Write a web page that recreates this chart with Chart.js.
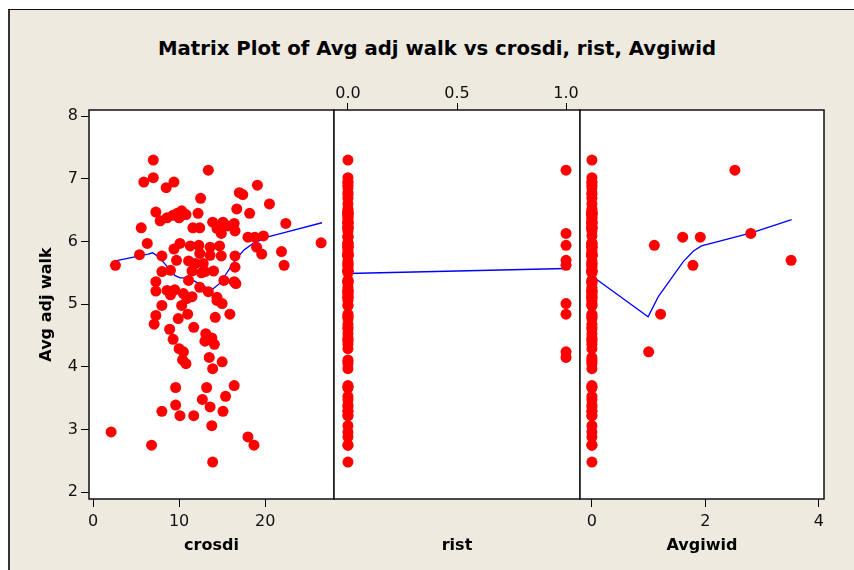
<!DOCTYPE html>
<html>
<head>
<meta charset="utf-8">
<script src="https://cdn.jsdelivr.net/npm/chart.js@4.4.1/dist/chart.umd.min.js"></script>
<style>
  body { margin: 0; background: #fff; }
  #wrap { position: relative; width: 854px; height: 570px; overflow: hidden; }
  #bg { position: absolute; left: 8px; top: 9px; right: 0; bottom: 0; background: #eeeae0;
        border-left: 2px solid #333; border-top: 1px solid #111; }
  canvas { position: absolute; left: 0; top: 0; }
  #title { position: absolute; left: 0; width: 874px; top: 37px; text-align: center;
           font: bold 19.7px "DejaVu Sans", sans-serif; line-height: 24px; color: #000; }
</style>
</head>
<body>
<div id="wrap">
  <div id="bg"></div>
  <div id="title">Matrix Plot of Avg adj walk vs crosdi, rist, Avgiwid</div>
  <canvas id="pCrosdi" width="854" height="570"></canvas>
  <canvas id="pRist" width="854" height="570"></canvas>
  <canvas id="pAvgiwid" width="854" height="570"></canvas>
</div>
<script>
// una fila por observacion
const crosdi = [13.4, 14.9, 12.3, 9.7, 22.2, 15.0, 15.9, 10.5, 13.5, 18.0, 18.8,
  7.0, 5.9, 7.0, 8.5, 9.4, 12.5, 17.0, 17.4, 19.1, 20.5, 16.7, 18.2, 7.3, 7.8, 8.6, 9.3,
  9.8, 10.3, 10.8, 10.0, 12.2, 5.6, 6.3, 5.4, 2.6, 11.6, 12.4, 13.9, 15.1, 16.4, 14.4,
  15.6, 16.5, 19.8, 22.4, 26.5, 21.9, 19.0, 19.6, 16.5, 16.5, 10.1, 9.4, 11.3, 13.6,
  14.7, 12.4, 13.6, 14.9, 8.0, 9.0, 8.0, 11.1, 11.9, 12.8, 11.5, 12.6, 14.0, 15.2, 16.4,
  16.6, 11.1, 7.3, 7.3, 8.6, 9.5, 10.5, 12.4, 13.4, 14.4, 11.5, 14.4, 14.2, 8.0, 10.3,
  7.3, 7.1, 9.9, 11.0, 11.7, 8.9, 9.3, 13.1, 13.8, 13.0, 14.1, 10.0, 10.4, 10.8, 15.0,
  13.9, 9.6, 13.2, 16.4, 12.7, 15.4, 9.6, 13.6, 8.0, 10.1, 11.7, 15.1, 13.8, 2.1, 18.0,
  18.7, 6.8, 13.9, 13.0, 9.0, 10.9];
const walk = [7.14, 6.13, 5.94, 5.70, 5.62, 5.01, 4.84, 4.24, 4.15, 6.07, 6.07,
  7.30, 6.95, 7.02, 6.86, 6.95, 6.69, 6.78, 6.75, 6.90, 6.60, 6.52, 6.45, 6.47, 6.33, 6.38, 6.42,
  6.45, 6.49, 6.43, 6.38, 6.45, 6.22, 5.97, 5.79, 5.62, 6.22, 6.22, 6.31, 6.31, 6.29, 6.21,
  6.25, 6.17, 6.09, 6.29, 5.98, 5.84, 5.91, 5.80, 5.77, 5.59, 5.97, 5.88, 5.93, 5.91,
  5.93, 5.81, 5.78, 5.77, 5.77, 5.54, 5.52, 5.69, 5.65, 5.65, 5.53, 5.50, 5.53, 5.38, 5.36,
  5.33, 5.38, 5.36, 5.21, 5.22, 5.23, 5.17, 5.27, 5.20, 5.11, 5.12, 5.06, 4.79, 4.98, 4.98,
  4.82, 4.68, 4.77, 4.84, 4.63, 4.60, 4.44, 4.53, 4.46, 4.41, 4.36, 4.29, 4.11, 4.05, 4.08,
  3.97, 3.67, 3.67, 3.70, 3.48, 3.53, 3.39, 3.36, 3.29, 3.22, 3.22, 3.29, 3.06, 2.96, 2.88,
  2.75, 2.75, 2.48, 5.52, 5.15, 5.09];
const rist = [1, 1, 1, 1, 1, 1, 1, 1, 1, 0, 0,
  0, 0, 0, 0, 0, 0, 0, 0, 0, 0, 0, 0, 0, 0, 0, 0,
  0, 0, 0, 0, 0, 0, 0, 0, 0, 0, 0, 0, 0, 0, 0,
  0, 0, 0, 0, 0, 0, 0, 0, 0, 0, 0, 0, 0, 0,
  0, 0, 0, 0, 0, 0, 0, 0, 0, 0, 0, 0, 0, 0, 0,
  0, 0, 0, 0, 0, 0, 0, 0, 0, 0, 0, 0, 0, 0, 0,
  0, 0, 0, 0, 0, 0, 0, 0, 0, 0, 0, 0, 0, 0, 0,
  0, 0, 0, 0, 0, 0, 0, 0, 0, 0, 0, 0, 0, 0, 0,
  0, 0, 0, 0, 0, 0];
const avgiwid = [2.52, 2.80, 1.10, 3.51, 1.78, 0, 1.21, 1.00, 0, 1.60, 1.91,
  0, 0, 0, 0, 0, 0, 0, 0, 0, 0, 0, 0, 0, 0, 0, 0,
  0, 0, 0, 0, 0, 0, 0, 0, 0, 0, 0, 0, 0, 0, 0,
  0, 0, 0, 0, 0, 0, 0, 0, 0, 0, 0, 0, 0, 0,
  0, 0, 0, 0, 0, 0, 0, 0, 0, 0, 0, 0, 0, 0, 0,
  0, 0, 0, 0, 0, 0, 0, 0, 0, 0, 0, 0, 0, 0, 0,
  0, 0, 0, 0, 0, 0, 0, 0, 0, 0, 0, 0, 0, 0, 0,
  0, 0, 0, 0, 0, 0, 0, 0, 0, 0, 0, 0, 0, 0, 0,
  0, 0, 0, 0, 0, 0];

// curvas lowess
const crosdiFitX = [2.6, 6.4, 6.9, 7.6, 8.5, 9.5, 10.1, 11.1, 11.9, 12.6, 13.8, 14.8, 15.5, 16.5, 17.5, 18.6, 20.2, 22.1, 26.6];
const crosdiFitY = [5.69, 5.80, 5.82, 5.76, 5.62, 5.46, 5.42, 5.42, 5.36, 5.30, 5.23, 5.34, 5.49, 5.70, 5.86, 5.97, 6.07, 6.14, 6.30];
const ristFitX = [0, 1];
const ristFitY = [5.49, 5.57];
const avgiwidFitX = [0, 0.99, 1.17, 1.61, 1.79, 1.93, 2.81, 3.52];
const avgiwidFitY = [5.45, 4.80, 5.12, 5.68, 5.85, 5.93, 6.14, 6.35];

const FONT = '"DejaVu Sans", sans-serif';
const tickFont = { family: FONT, size: 16 };
const titleFont = { family: FONT, size: 16, weight: 'bold' };

// fondo blanco + marco negro del area de trazado
const framePlugin = {
  id: 'frame',
  beforeDraw(chart) {
    const a = chart.chartArea, c = chart.ctx;
    c.save();
    c.fillStyle = '#fff';
    c.fillRect(a.left, a.top, a.right - a.left, a.bottom - a.top);
    c.restore();
  },
  afterDraw(chart) {
    const a = chart.chartArea, c = chart.ctx;
    c.save();
    c.strokeStyle = '#111';
    c.lineWidth = 1.5;
    c.strokeRect(a.left, a.top, a.right - a.left, a.bottom - a.top);
    c.restore();
  }
};

function pts(xs, ys) {
  return xs.map((x, i) => ({ x: x, y: ys[i] }));
}

function yScale(show) {
  const s = {
    display: show,
    min: 1.89, max: 8.1,
    border: { display: false },
    grid: { drawOnChartArea: false, color: '#000', tickLength: 8 },
    ticks: { stepSize: 1, includeBounds: false, color: '#111', font: tickFont, padding: 3 },
    title: { display: true, text: 'Avg adj walk', color: '#000', font: titleFont }
  };
  if (show) s.afterFit = sc => { sc.width = 56; };
  return s;
}

function xScale(position, min, max, step, label, decimals) {
  return {
    type: 'linear', position: position, min: min, max: max,
    afterFit: s => { s.height = 60; },
    border: { display: false },
    grid: { drawOnChartArea: false, color: '#000', tickLength: position === 'top' ? 7 : 8 },
    ticks: {
      stepSize: step, includeBounds: false, color: '#111', font: tickFont,
      padding: position === 'top' ? 0 : 5,
      callback: v => v.toFixed(decimals)
    },
    title: { display: !!label, text: label, color: '#000', font: titleFont }
  };
}

function panel(id, xs, fitX, fitY, scales, padding) {
  new Chart(document.getElementById(id), {
    type: 'scatter',
    data: {
      datasets: [
        {
          data: pts(xs, walk),
          pointRadius: 5.5, pointHoverRadius: 5.5,
          backgroundColor: '#ff0000', borderWidth: 0
        },
        {
          type: 'line',
          data: pts(fitX, fitY),
          borderColor: '#0000ff', borderWidth: 1.3,
          pointRadius: 0, fill: false, tension: 0
        }
      ]
    },
    options: {
      responsive: false, animation: false,
      layout: { padding: padding },
      plugins: { legend: { display: false }, tooltip: { enabled: false }, title: { display: false } },
      scales: scales
    },
    plugins: [framePlugin]
  });
}

panel('pCrosdi', crosdi, crosdiFitX, crosdiFitY, {
  x: xScale('bottom', -0.47, 28.0, 10, 'crosdi', 0),
  y: yScale(true)
}, { left: 33, right: 520, top: 110, bottom: 11 });

const ristBottom = {
  type: 'linear', position: 'bottom', min: 0, max: 1,
  afterFit: s => { s.height = 60; },
  border: { display: false },
  grid: { display: false },
  ticks: { display: false },
  title: { display: true, text: 'rist', color: '#000', font: titleFont }
};
panel('pRist', rist, ristFitX, ristFitY, {
  x: xScale('top', -0.064, 1.064, 0.5, '', 1),
  xb: ristBottom,
  y: yScale(false)
}, { left: 334, right: 274, top: 50, bottom: 11 });

panel('pAvgiwid', avgiwid, avgiwidFitX, avgiwidFitY, {
  x: xScale('bottom', -0.21, 4.09, 2, 'Avgiwid', 0),
  y: yScale(false)
}, { left: 580, right: 30, top: 110, bottom: 11 });
</script>
</body>
</html>
